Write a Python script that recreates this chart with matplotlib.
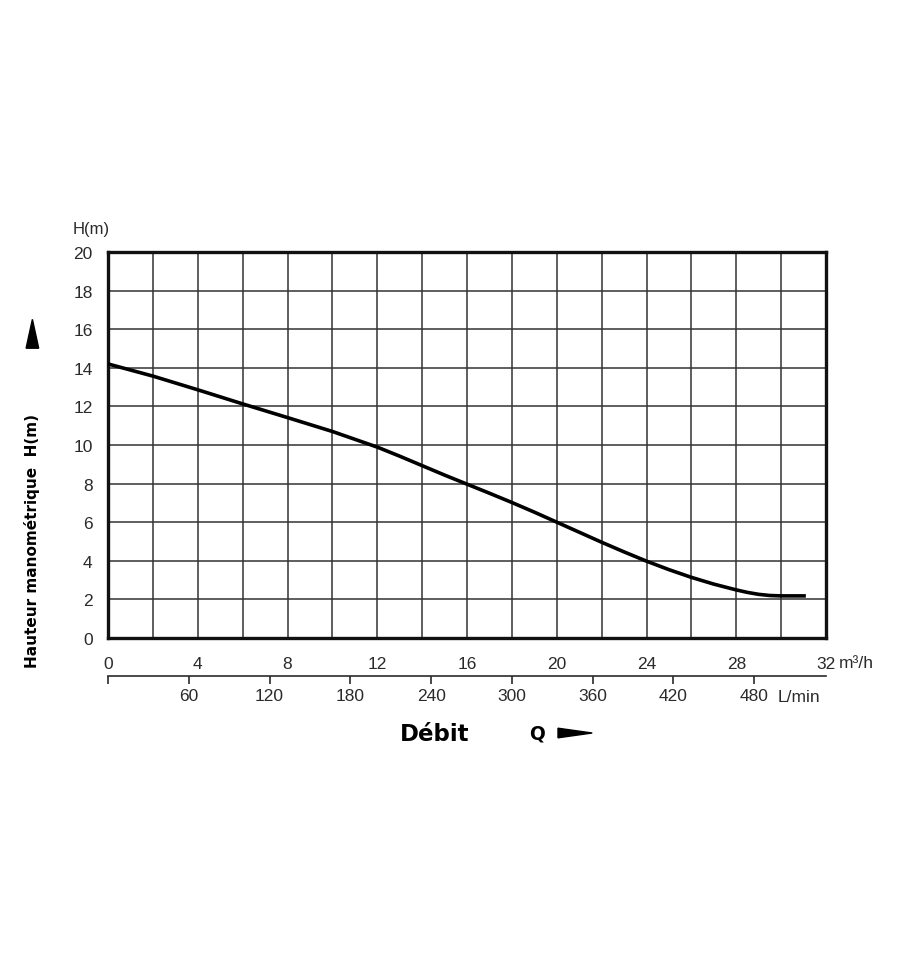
import numpy as np
import matplotlib.pyplot as plt
from matplotlib.patches import Polygon

# pump curve (Q in m3/h, H in m)
q_m3h = [0, 2, 4, 6, 8, 10, 12, 13, 14, 15, 16, 17, 18, 19, 20, 21, 22, 23, 24,
         25, 26, 27, 28, 28.5, 29, 29.5, 30, 31.02]
h_m = [14.2, 13.57, 12.86, 12.13, 11.42, 10.7, 9.89, 9.42, 8.93, 8.44, 7.97, 7.5, 7.02,
       6.52, 6.0, 5.48, 4.96, 4.46, 3.98, 3.54, 3.14, 2.79, 2.49, 2.36, 2.26, 2.2, 2.18, 2.18]

x_ticks = [0, 4, 8, 12, 16, 20, 24, 28, 32]
y_ticks = [0, 2, 4, 6, 8, 10, 12, 14, 16, 18, 20]
lmin_ticks = [0, 60, 120, 180, 240, 300, 360, 420, 480]

txt_col = "#2a2a2a"
fs = 12.5
plt.rcParams['font.family'] = ['Liberation Sans', 'DejaVu Sans']

fig = plt.figure(figsize=(9, 9.62), dpi=100)
ax = fig.add_axes([0.12, 0.3358, 0.7978, 0.4012])

ax.plot(q_m3h, h_m, color="black", lw=2.6, solid_joinstyle="round", zorder=3)

ax.set_xlim(0, 32)
ax.set_ylim(0, 20)
ax.set_yticks(y_ticks)
ax.grid(True, color="#333333", lw=1.1)
# grid every 2 m3/h, labels every 4
ax.set_xticks(np.arange(0, 33, 2))
ax.set_xticklabels([str(v) if v in x_ticks else "" for v in range(0, 33, 2)])
ax.tick_params(axis="both", length=0, labelsize=fs, colors=txt_col)
ax.tick_params(axis="x", pad=13)
ax.tick_params(axis="y", pad=11)
for s in ax.spines.values():
    s.set_linewidth(2.4)
    s.set_color("#111111")

ax.text(32.55, -1.25, "m³/h", fontsize=fs, color=txt_col, ha="left", va="center",
        clip_on=False)
ax.text(-0.024, 1.06, "H(m)", transform=ax.transAxes, fontsize=fs - 0.5, color=txt_col,
        ha="center", va="center")

# second scale in L/min
sec = ax.secondary_xaxis(-0.098, functions=(lambda q: q * 1000 / 60, lambda l: l * 60 / 1000))
sec.set_xticks(lmin_ticks)
sec.set_xticklabels([""] + [str(v) for v in lmin_ticks[1:]])
sec.tick_params(axis="x", direction="out", length=6, width=1.2, labelsize=fs,
                colors=txt_col, pad=3)
sec.spines["bottom"].set_linewidth(1.2)
sec.spines["bottom"].set_color(txt_col)
ax.text(0.932, -0.152, "L/min", transform=ax.transAxes, fontsize=fs, color=txt_col,
        ha="left", va="center")

# axis titles
fig.text(0.036, 0.4375, "Hauteur manométrique  H(m)", rotation=90, fontsize=11,
         fontweight="bold", family="DejaVu Sans", ha="center", va="center")
fig.patches.append(Polygon([[0.029, 0.637], [0.043, 0.637], [0.036, 0.667]], closed=True,
                           transform=fig.transFigure, color="black"))
fig.text(0.483, 0.237, "Débit", fontsize=16.5, fontweight="bold", family="DejaVu Sans",
         ha="center", va="center")
fig.text(0.597, 0.237, "Q", fontsize=13.5, fontweight="bold", family="DejaVu Sans",
         ha="center", va="center")
fig.patches.append(Polygon([[0.62, 0.232], [0.62, 0.242], [0.658, 0.237]], closed=True,
                           transform=fig.transFigure, color="black"))

fig.savefig("out.png", dpi=100, facecolor="white")
